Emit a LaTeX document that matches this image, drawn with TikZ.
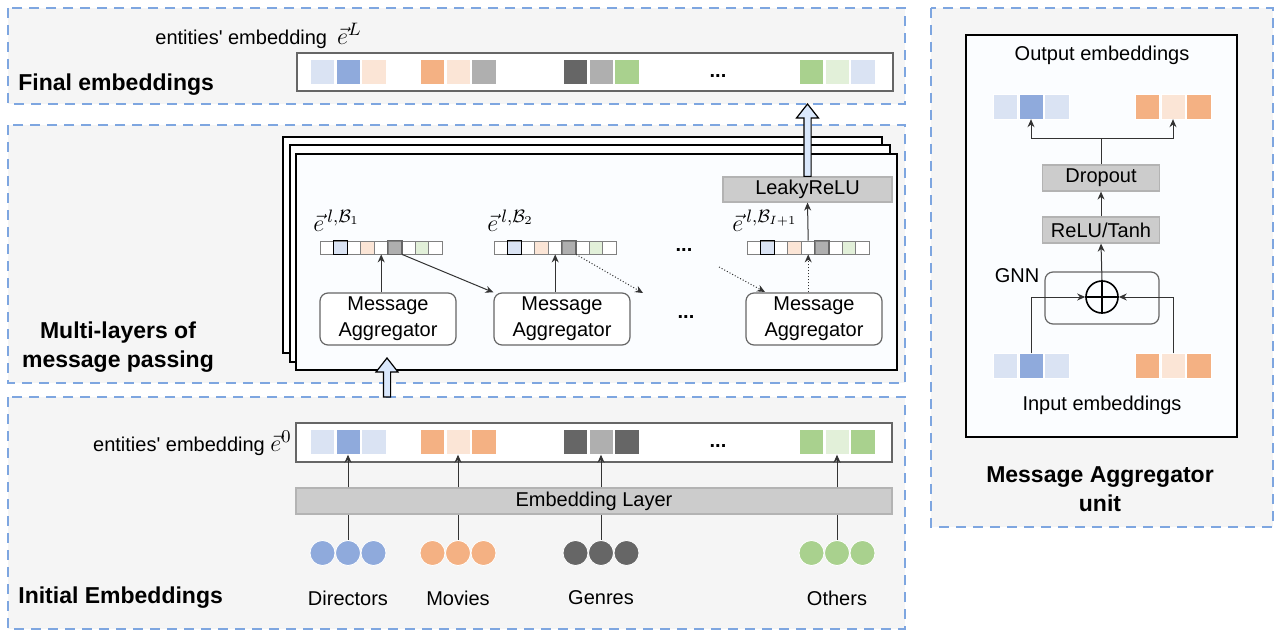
\documentclass[tikz,border=0pt]{standalone}
\usepackage{fontspec}
\setmainfont{Liberation Sans}
\usetikzlibrary{arrows.meta,calc}

\definecolor{dashblue}{HTML}{7EA6E0}
\definecolor{panelgray}{HTML}{F5F5F5}
\definecolor{paper}{HTML}{FBFDFF}
\definecolor{lblue}{HTML}{DAE3F3}
\definecolor{mblue}{HTML}{8FAADC}
\definecolor{lorange}{HTML}{FBE5D6}
\definecolor{morange}{HTML}{F4B183}
\definecolor{lgray}{HTML}{AFAFAF}
\definecolor{dgray}{HTML}{666666}
\definecolor{mgreen}{HTML}{A9D18E}
\definecolor{lgreen}{HTML}{E2F0D9}
\definecolor{boxgray}{HTML}{CCCCCC}
\definecolor{boxline}{HTML}{B3B3B3}
\definecolor{arrowblue}{HTML}{DAE8FC}
\definecolor{wirecol}{HTML}{333333}

% hollow block arrow pointing up, from #1 to the tip #2
\newcommand{\blockup}[2]{%
  \draw[draw=black, fill=arrowblue, line width=0.6pt]
    let \p1=(#1), \p2=(#2) in
    (\x1-1.8pt,\y1) -- (\x1-1.8pt,\y2-7pt) -- (\x1-5.5pt,\y2-7pt) -- (\x1,\y2)
    -- (\x1+5.5pt,\y2-7pt) -- (\x1+1.8pt,\y2-7pt) -- (\x1+1.8pt,\y1) -- cycle;}

% row of nine small cells, #1 name, #2 left edge, #3 centre y
\newcommand{\minibar}[3]{%
  \foreach \c [count=\i] in {white,lblue,white,lorange,white,lgray,white,lgreen,white}
    \node[mini, fill=\c] (#1-\i) at ({#2+13.6*(\i-0.5)},#3) {};
  \draw[line width=0.7pt] (#1-2.south west) rectangle (#1-2.north east);
  \draw[line width=0.7pt, draw=dgray] (#1-6.south west) rectangle (#1-6.north east);}

\newcommand{\bigmath}[1]{{\fontsize{13}{15}\selectfont$#1$}}

\begin{document}
\begin{tikzpicture}[x=0.5pt, y=-0.5pt,
  panel/.style={draw=dashblue, fill=panelgray, line width=1pt, dash pattern=on 5pt off 3.5pt},
  sheet/.style={draw=black, fill=white, line width=0.9pt},
  cell/.style={minimum width=12.2pt, minimum height=12.4pt, inner sep=0, draw=white, line width=0.3pt},
  ball/.style={circle, minimum size=12.5pt, inner sep=0, draw=white, line width=0.4pt},
  mini/.style={minimum width=6.8pt, minimum height=6.5pt, inner sep=0, draw=gray, line width=0.4pt},
  graybox/.style={fill=boxgray, draw=boxline, line width=0.6pt, inner sep=0},
  magg/.style={rounded corners=4pt, draw=dgray, fill=white, line width=0.6pt,
    minimum width=68pt, minimum height=26pt, align=center, inner sep=0,
    font=\fontsize{10}{13}\selectfont},
  wire/.style={draw=wirecol, line width=0.5pt},
  arr/.style={wire, -{Stealth[length=4pt,width=3.5pt]}},
  title/.style={font=\fontsize{11.5}{14.5}\selectfont\bfseries, inner sep=0, align=center},
  mathlab/.style={anchor=west, inner sep=0, font=\fontsize{13}{15}\selectfont}]

\useasboundingbox (0,0) rectangle (1280,631);

% panels
\draw[panel] (8,8) rectangle (905,104);
\draw[panel] (8,125) rectangle (905,383);
\draw[panel] (8,397) rectangle (905,629);
\draw[panel] (931,8) rectangle (1273,527);

% final embeddings
\node[title, anchor=west] (finTitle) at (18,85) {Final embeddings};
\node[anchor=west, inner sep=0] (finLabel) at (155,36)
  {entities\textquotesingle{} embedding\hspace{5pt}\bigmath{\vec{e}^{L}}};
\node[draw=dgray, fill=white, line width=0.6pt, minimum width=298pt, minimum height=19pt] (finBar) at (595,72) {};
\foreach \gx/\a/\b/\c [count=\g] in {348/lblue/mblue/lorange, 458/morange/lorange/lgray,
    601/dgray/lgray/mgreen, 837/mgreen/lgreen/lblue} {
  \node[cell, fill=\a] (fin\g-1) at (\gx-25.7,72) {};
  \node[cell, fill=\b] (fin\g-2) at (\gx,72) {};
  \node[cell, fill=\c] (fin\g-3) at (\gx+25.7,72) {};
}
\node[font=\bfseries, inner sep=0] (finDots) at (718,76) {...};

% multi-layers of message passing
\node[title] (multiTitle) at (118,347) {Multi-layers of\\message passing};
\draw[sheet] (283,137) rectangle (882,353);
\draw[sheet] (290,145) rectangle (890,362);
\draw[sheet, fill=paper] (296,154) rectangle (897,370);

\node[graybox, minimum width=84.5pt, minimum height=12.5pt] (leaky) at (807.5,189.5) {LeakyReLU};

\node[mathlab] (lab1) at (313,221) {$\vec{e}^{\,l,\mathcal{B}_1}$};
\node[mathlab] (lab2) at (487,221) {$\vec{e}^{\,l,\mathcal{B}_2}$};
\node[mathlab] (lab3) at (732,221) {$\vec{e}^{\,l,\mathcal{B}_{I+1}}$};

\minibar{b1}{320}{247.5}
\minibar{b2}{494}{247.5}
\minibar{b3}{747}{247.5}
\node[font=\bfseries, inner sep=0] (barDots) at (684,250) {...};

\node[magg] (ma1) at (388,319) {Message\\Aggregator};
\node[magg] (ma2) at (562,319) {Message\\Aggregator};
\node[magg] (ma3) at (814,319) {Message\\Aggregator};
\node[font=\bfseries, inner sep=0] (maDots) at (686,317) {...};

\coordinate (hopEnd) at (643,293);
\coordinate (hopStart) at (719,267);
\draw[arr] (b1-5.south |- ma1.north) -- (b1-5.south);
\draw[arr] (b2-5.south |- ma2.north) -- (b2-5.south);
\draw[arr, densely dotted] (b3-5.south |- ma3.north) -- (b3-5.south);
\draw[arr] (b3-5.north) -- (leaky.south);
\draw[arr] (b1-6.south east) -- (ma2.north west);
\draw[arr, densely dotted] (b2-6.south east) -- (hopEnd);
\draw[arr, densely dotted] (hopStart) -- (765,292);

% initial embeddings
\node[title, anchor=west] (initTitle) at (18,598) {Initial Embeddings};
\node[anchor=east, inner sep=0] (iniLabel) at (292,443)
  {entities\textquotesingle{} embedding \bigmath{\vec{e}^{0}}};
\node[draw=dgray, fill=white, line width=0.6pt, minimum width=298pt, minimum height=19.5pt] (iniBar) at (594,442.5) {};
\node[graybox, minimum width=298pt, minimum height=13pt] (emb) at (594,501) {Embedding Layer};
\foreach \gx/\a/\b/\col/\lab [count=\g] in {348/lblue/mblue/mblue/Directors, 458/morange/lorange/morange/Movies,
    601/dgray/lgray/dgray/Genres, 837/mgreen/lgreen/mgreen/Others} {
  \node[cell, fill=\a] (ini\g-1) at (\gx-25.7,442) {};
  \node[cell, fill=\b] (ini\g-2) at (\gx,442) {};
  \node[cell, fill=\a] (ini\g-3) at (\gx+25.7,442) {};
  \node[ball, fill=\col] (ent\g-1) at (\gx-25.5,553) {};
  \node[ball, fill=\col] (ent\g-3) at (\gx+25.5,553) {};
  \node[ball, fill=\col] (ent\g-2) at (\gx,553) {};
  \node (name\g) at (\gx,598) {\lab};
  \draw[wire] (ent\g-2.north) -- (ent\g-2.north |- emb.south);
  \draw[arr] (ent\g-2.north |- emb.north) -- (ini\g-2.south);
}
\node[font=\bfseries, inner sep=0] (iniDots) at (718,446) {...};

% block arrows between the panels
\coordinate (finTip) at (808,104);
\coordinate (initTop) at (387,397);
\coordinate (stackTip) at (387,358);
\blockup{leaky.north}{finTip}
\blockup{initTop}{stackTip}

% message aggregator unit
\draw[draw=black, fill=paper, line width=0.9pt] (966,35) rectangle (1237,437);
\node (outTitle) at (1102,55) {Output embeddings};
\node (inTitle) at (1102,405) {Input embeddings};
\foreach \gx/\a/\b/\side in {1031/lblue/mblue/L, 1173/morange/lorange/R} {
  \node[cell, fill=\a] (out\side-1) at (\gx-25.7,106.5) {};
  \node[cell, fill=\b] (out\side-2) at (\gx,106.5) {};
  \node[cell, fill=\a] (out\side-3) at (\gx+25.7,106.5) {};
  \node[cell, fill=\a] (in\side-1) at (\gx-25.7,366) {};
  \node[cell, fill=\b] (in\side-2) at (\gx,366) {};
  \node[cell, fill=\a] (in\side-3) at (\gx+25.7,366) {};
}
\node[graybox, minimum width=58.5pt, minimum height=13pt] (drop) at (1101,178) {Dropout};
\node[graybox, minimum width=58.5pt, minimum height=13pt] (relu) at (1101,230) {ReLU/Tanh};
\node[draw=dgray, rounded corners=4pt, line width=0.6pt, minimum width=57pt, minimum height=26pt] (gnn) at (1102,298) {};
\node (gnnLabel) at (1017,276) {GNN};
\node[circle, draw=black, line width=0.8pt, minimum size=16pt, inner sep=0] (plus) at (1102,297) {};
\draw[line width=0.8pt] (plus.north) -- (plus.south) (plus.west) -- (plus.east);
\coordinate (split) at (1101,139);
\draw[arr] (inL-2.north) |- (plus.west);
\draw[arr] (inR-2.north) |- (plus.east);
\draw[arr] (plus.north) -- (relu.south);
\draw[arr] (relu.north) -- (drop.south);
\draw[wire] (drop.north) -- (split);
\draw[arr] (split) -| (outL-2.south);
\draw[arr] (split) -| (outR-2.south);
\node[title] (unitTitle) at (1100,489) {Message Aggregator\\unit};

\end{tikzpicture}
\end{document}
